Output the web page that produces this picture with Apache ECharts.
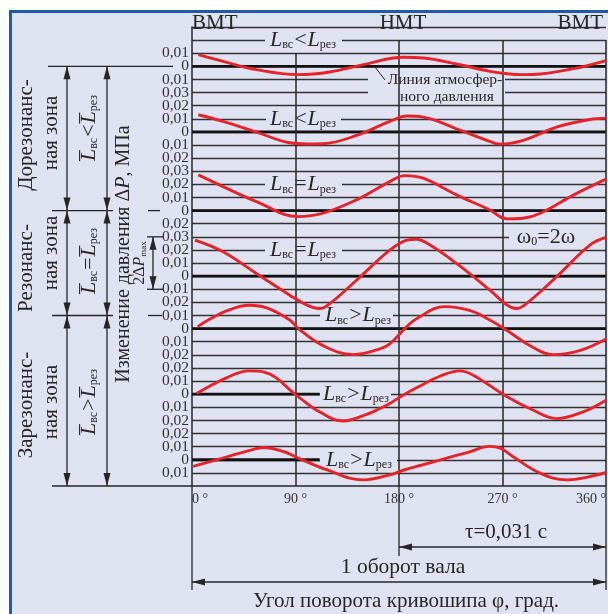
<!DOCTYPE html>
<html>
<head>
<meta charset="utf-8">
<script src="https://cdn.jsdelivr.net/npm/echarts@6/dist/echarts.min.js"></script>
<style>
  html, body { margin: 0; padding: 0; background: #fff; }
  #frame { position: absolute; left: 9px; top: 10px; width: 599px; height: 604px; box-sizing: border-box;
           background: #dfe3f1; border-left: 3px solid #1f5aa6; border-top: 3px solid #1f5aa6; }
  #main { position: absolute; left: 0; top: 0; width: 608px; height: 614px; }
</style>
</head>
<body>
<div id="frame"></div>
<div id="main"></div>
<script>
// углы поворота кривошипа (град.) и изменение давления (МПа) по зонам
const deg1 = [5.5, 27, 56, 92, 120, 149, 184, 201, 230, 259, 274, 288, 303, 332, 360];
const dp1 = [0.0089, 0.0038, -0.0025, -0.0063, -0.0043, 0.0013, 0.0069, 0.0064, 0.0018, -0.0038, -0.0056, -0.0063, -0.0058, -0.0018, 0.0044];

const deg2 = [5.5, 27, 56, 85, 100, 114, 143, 172, 187, 201, 230, 259, 268, 288, 317, 346, 360];
const dp2 = [0.0131, 0.008, -0.0001, -0.0083, -0.0092, -0.009, -0.0027, 0.008, 0.0121, 0.0113, 0.0024, -0.0073, -0.0093, -0.0065, 0.0037, 0.0095, 0.0105];

const deg3 = [5.5, 27, 56, 92.5, 114, 143, 172, 185, 201, 230, 259, 274, 288, 303, 332, 360];
const dp3 = [0.0272, 0.0183, 0.0069, -0.0046, -0.002, 0.0082, 0.0221, 0.0267, 0.0247, 0.012, 0.0005, -0.0063, -0.0058, -0.002, 0.012, 0.024];

const deg4 = [2.6, 27, 56, 85, 100, 111, 120, 143, 172, 187, 195, 207, 230, 259, 274, 282, 291, 317, 346, 360];
const dp4 = [0.0275, 0.0186, 0.002, -0.0145, -0.0221, -0.0247, -0.0208, -0.0031, 0.0198, 0.0275, 0.0282, 0.0237, 0.0097, -0.0107, -0.0221, -0.0247, -0.0208, -0.0005, 0.0237, 0.0295];

const deg5 = [5, 13, 30, 50, 65, 85, 92.5, 114, 140, 163.5, 172, 185, 195, 220, 242, 259, 274, 294, 314, 337, 360];
const dp5 = [0.0015, 0.006, 0.0135, 0.0178, 0.0158, 0.0066, 0.0, -0.013, -0.0198, -0.0155, -0.0117, 0.0, 0.0074, 0.0168, 0.0137, 0.0066, -0.0015, -0.013, -0.0198, -0.0168, -0.0079];

const deg6 = [4, 30, 50, 62, 92.5, 108.4, 131.6, 150, 163.5, 172, 185, 200, 215, 233, 244.6, 274, 295, 317, 340, 360];
const dp6 = [0.0005, 0.0125, 0.0178, 0.017, -0.002, -0.0122, -0.0204, -0.016, -0.0109, -0.0071, 0.0, 0.007, 0.0135, 0.0178, 0.0145, -0.002, -0.0115, -0.0186, -0.0135, -0.0046];

const deg7 = [1, 21.5, 50.4, 62, 79.4, 92.4, 117, 149, 172, 185, 200, 221.5, 240, 259, 268, 279, 302.6, 326, 345, 360];
const dp7 = [-0.0051, 0.0, 0.0071, 0.0094, 0.0063, 0.0013, -0.0076, -0.0153, -0.0115, -0.0076, -0.004, 0.0013, 0.0057, 0.0102, 0.0089, 0.0025, -0.0102, -0.0153, -0.013, -0.0097];

// номер линии сетки, на которой лежит нуль каждой кривой (шаг сетки 0,01 МПа)
const zeroRows = [32, 27, 21, 16, 12, 7, 2];
// подписи шкалы по линиям сетки снизу вверх
const tickText = ['', '0,01', '0', '0,01', '0,02', '0,02', '0,01', '0', '0,01', '0,02', '0,02', '0,01', '0',
  '0,01', '0,02', '0,01', '0', '0,01', '0,02', '0,03', '0,02', '0', '0,01', '0,02', '0,03', '0,02', '0,01', '0',
  '0,01', '0,02', '0,03', '0,01', '0', '0,01', '', ''];
const xTicks = [0, 90, 180, 270, 360];

const curves = [[deg1, dp1], [deg2, dp2], [deg3, dp3], [deg4, dp4], [deg5, dp5], [deg6, dp6], [deg7, dp7]];

const BG = '#dfe3f1';
const INK = '#262626';
const RED = '#e8222a';
const SERIF = '"Liberation Serif", "DejaVu Serif", serif';
const STEP = 0.01, ROWS = 35;
const X0 = 192, XW = 414, Y0 = 27, YH = 459;
const px = d => X0 + d * XW / 360;
const py = r => Y0 + YH - r * YH / ROWS;

var myChart = echarts.init(document.getElementById('main'));

// --- вспомогательная графика ---
function seg(x1, y1, x2, y2, w) {
  return { type: 'line', silent: true, z: 3, shape: { x1, y1, x2, y2 }, style: { stroke: INK, lineWidth: w || 1.3 } };
}
function head(x, y, dir) {
  const L = 13, W = 3.5;
  let p;
  if (dir === 'up') p = [[x, y], [x - W, y + L], [x + W, y + L]];
  if (dir === 'down') p = [[x, y], [x - W, y - L], [x + W, y - L]];
  if (dir === 'left') p = [[x, y], [x + L, y - W], [x + L, y + W]];
  if (dir === 'right') p = [[x, y], [x - L, y - W], [x - L, y + W]];
  return { type: 'polygon', silent: true, z: 3, shape: { points: p }, style: { fill: INK } };
}
function arrowV(x, y1, y2) { return [seg(x, y1, x, y2), head(x, y1, 'up'), head(x, y2, 'down')]; }
function arrowH(y, x1, x2) { return [seg(x1, y, x2, y), head(x1, y, 'left'), head(x2, y, 'right')]; }
function gap(x1, y1, x2, y2) {
  return { type: 'rect', silent: true, z: 3, shape: { x: x1, y: y1, width: x2 - x1, height: y2 - y1 }, style: { fill: BG } };
}
function rich(size) {
  return {
    L: { fontFamily: SERIF, fontStyle: 'italic', fontSize: size, fill: INK, lineHeight: size },
    i: { fontFamily: SERIF, fontStyle: 'italic', fontSize: size, fill: INK, lineHeight: size },
    n: { fontFamily: SERIF, fontSize: size, fill: INK, lineHeight: size },
    o: { fontFamily: SERIF, fontSize: size, fill: INK, lineHeight: size, padding: [0, 1] },
    s: { fontFamily: SERIF, fontSize: Math.round(size * 0.55), fill: INK, verticalAlign: 'bottom', lineHeight: Math.round(size * 0.62) }
  };
}
function txt(text, x, y, size, opt) {
  opt = opt || {};
  return {
    type: 'text', silent: true, z: 4, x, y, rotation: opt.rot || 0,
    style: {
      text, rich: rich(size), fontFamily: SERIF, fontSize: size, fill: INK,
      align: opt.align || 'center', verticalAlign: 'middle'
    }
  };
}
const lt = op => '{L|L}{s|вс}{o|' + op + '}{L|L}{s|рез}';
const ltBar = op => '{L|L\u0305}{s|вс}{o|' + op + '}{L|L\u0305}{s|рез}';
const R90 = Math.PI / 2;

let g = [];
// разрывы линий сетки под подписями
g.push(gap(265, py(34) - 6, 342, py(34) + 6));
g.push(gap(266, py(28) - 6, 341, py(28) + 6));
g.push(gap(265, py(23) - 6, 342, py(23) + 6));
g.push(gap(265, py(18) - 6, 342, py(18) + 6));
g.push(gap(320, py(13) - 6, 393, py(13) + 6));
g.push(gap(320, py(7) - 6, 391, py(7) + 6));
g.push(gap(320, py(2) - 6, 397, py(2) + 6));
g.push(gap(509, py(19) - 8.5, 604, py(19) + 8.5));
g.push(gap(368, 68.7, 505, 104));
// подписи у кривых
g.push(txt(lt('<'), 303, py(34), 22));
g.push(txt(lt('<'), 303, py(28), 22));
g.push(txt(lt('='), 303, py(23), 22));
g.push(txt(lt('='), 303, py(18), 22));
g.push(txt(lt('>'), 358, py(13), 22));
g.push(txt(lt('>'), 356, py(7), 22));
g.push(txt(lt('>'), 359, py(2), 22));
g.push(txt('{n|ω}{s|0}{n|=2ω}', 546, py(19), 22));
g.push(seg(375, 67, 385, 80, 1));
g.push(txt('Линия атмосфер-', 445, 80, 15.5));
g.push(txt('ного давления', 447, 97, 15.5));
// верх
g.push(txt('ВМТ', 192, 23, 21, { align: 'left' }));
g.push(txt('НМТ', 403, 23, 21));
g.push(txt('ВМТ', 603, 23, 21, { align: 'right' }));
// зоны слева
g.push(seg(48, py(32), 173, py(32)));
g.push(seg(52, py(21), 113, py(21)));
g.push(seg(148, py(21), 160, py(21)));
g.push(seg(52, py(13), 113, py(13)));
g.push(seg(148, py(13), 162, py(13)));
g.push(seg(52, py(0), X0, py(0), 1.5));
[67, 107].forEach(x => {
  g = g.concat(arrowV(x, py(32), py(21)), arrowV(x, py(21), py(13)), arrowV(x, py(13), py(0)));
});
g.push(txt('Дорезонанс-', 26, 135, 21, { rot: R90 }));
g.push(txt('ная зона', 51, 133, 21, { rot: R90 }));
g.push(txt('Резонанс-', 26, 268, 21, { rot: R90 }));
g.push(txt('ная зона', 51, 253, 21, { rot: R90 }));
g.push(txt('Зарезонанс-', 26, 405, 21, { rot: R90 }));
g.push(txt('ная зона', 51, 402, 21, { rot: R90 }));
g.push(txt(ltBar('<'), 89, 128, 22, { rot: R90 }));
g.push(txt(ltBar('='), 89, 261, 22, { rot: R90 }));
g.push(txt(ltBar('>'), 89, 402, 22, { rot: R90 }));
g.push(txt('{n|Изменение давления Δ}{i|P}{n|, МПа}', 124, 254, 20, { rot: R90 }));
// 2ΔPmax
g.push(seg(147, py(19), 163, py(19)));
g.push(seg(147, py(15), 163, py(15)));
g = g.concat(arrowV(153, py(19), py(15)));
g.push(txt('{n|2Δ}{i|P}{s|max}', 140, 263, 16, { rot: R90 }));
// низ
g.push(seg(px(0), py(0), px(0), 590));
g.push(seg(px(180), py(0), px(180), 556));
g.push(seg(px(360), py(0), px(360), 590));
g = g.concat(arrowH(547, px(180), px(360)), arrowH(582, px(0), px(360)));
g.push(txt('τ=0,031 с', 506, 532, 21));
g.push(txt('1 оборот вала', 403, 567, 21.5));
g.push(txt('Угол поворота кривошипа φ, град.', 406, 601, 21));

// --- оси ---
const yAxes = [{
  type: 'value', min: 0, max: ROWS * STEP, interval: STEP, position: 'left',
  axisLine: { show: true, lineStyle: { color: INK, width: 1.5 } },
  axisTick: { show: false },
  axisLabel: {
    margin: 3, fontFamily: SERIF, fontSize: 15.5, color: '#333', lineHeight: 13,
    formatter: v => tickText[Math.round(v / STEP)] || ''
  },
  splitLine: { show: true, showMinLine: false, showMaxLine: false, lineStyle: { color: '#333', width: 1.3 } }
}].concat(zeroRows.map(r => ({
  type: 'value', show: false, min: -r * STEP, max: (ROWS - r) * STEP,
  axisLine: { show: false }, splitLine: { show: false }, axisLabel: { show: false }
})));

const zeroEnd = [360, 360, 360, 360, 360, 111, 111];

const series = [{
  // вертикальные линии ВМТ/НМТ
  type: 'line', yAxisIndex: 0, data: [], z: 2, silent: true,
  markLine: {
    silent: true, symbol: 'none', animation: false, label: { show: false },
    lineStyle: { color: INK, width: 1.5, type: 'solid' },
    data: [
      [{ coord: [xTicks[1], 0.33] }, { coord: [xTicks[1], 0] }],
      [{ coord: [xTicks[2], 0.34] }, { coord: [xTicks[2], 0] }],
      [{ coord: [xTicks[3], 0.34] }, { coord: [xTicks[3], 0] }],
      [{ coord: [xTicks[4], 0.34] }, { coord: [xTicks[4], 0] }]
    ]
  }
}];
zeroRows.forEach((r, i) => {
  series.push({
    type: 'line', yAxisIndex: i + 1, z: 2, silent: true, symbol: 'none',
    data: [[0, 0], [zeroEnd[i], 0]],
    lineStyle: { color: '#111', width: 2.8 }
  });
});
curves.forEach((c, i) => {
  series.push({
    type: 'line', yAxisIndex: i + 1, z: 5, silent: true, symbol: 'none',
    smooth: 0.4,
    data: c[0].map((d, j) => [d, c[1][j]]),
    lineStyle: { color: RED, width: 2.9 }
  });
});

myChart.setOption({
  animation: false,
  backgroundColor: 'transparent',
  grid: { left: X0, top: Y0, width: XW, height: YH, outerBoundsMode: 'none', containLabel: false },
  xAxis: {
    type: 'value', min: 0, max: 360, interval: 90,
    axisLine: { show: true, onZero: false, lineStyle: { color: INK, width: 1.5 } },
    axisTick: { show: false },
    splitLine: { show: false },
    axisLabel: {
      margin: 6, fontFamily: SERIF, fontSize: 14, color: '#333',
      alignMinLabel: 'left', alignMaxLabel: 'right',
      formatter: v => v + ' °'
    }
  },
  yAxis: yAxes,
  series: series,
  graphic: { elements: g }
});
</script>
</body>
</html>
